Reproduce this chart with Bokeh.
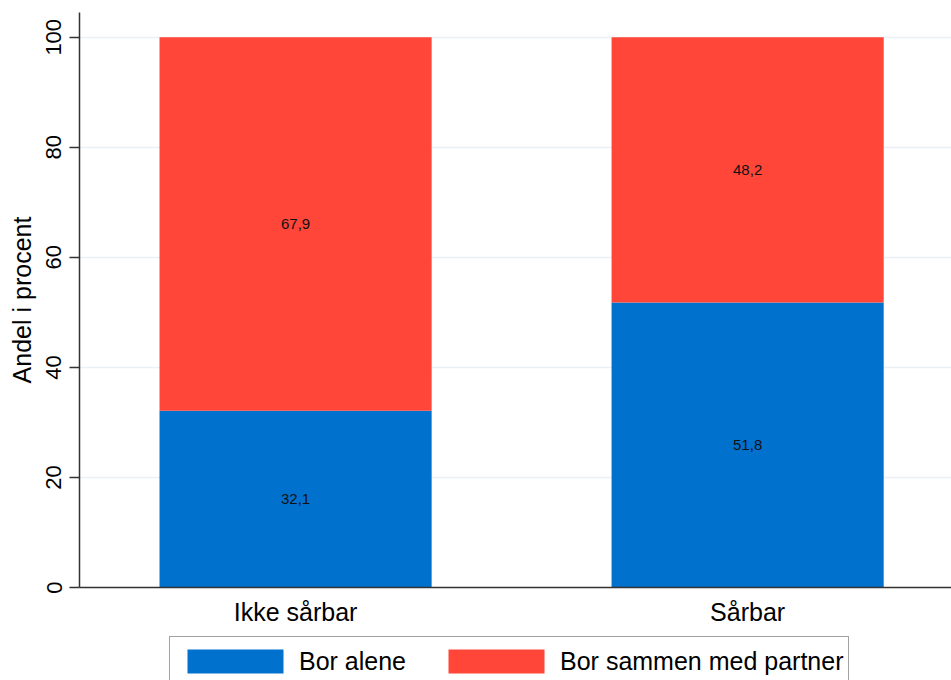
from bokeh.plotting import figure
from bokeh.layouts import column
from bokeh.models import (ColumnDataSource, FixedTicker, Range1d, Legend, LegendItem)
from bokeh.core.properties import value
from bokeh.embed import file_html
from bokeh.resources import INLINE

categories = ["Ikke sårbar", "Sårbar"]
bor_alene = [32.1, 51.8]
bor_sammen = [67.9, 48.2]
series_names = ["Bor alene", "Bor sammen med partner"]
y_ticks = [0, 20, 40, 60, 80, 100]

BLUE = "#0072CE"
RED = "#FF4639"
FONT = "Liberation Sans"

xs = [i + 1 for i in range(len(categories))]
src = ColumnDataSource(dict(
    x=xs, alene=bor_alene, sammen=bor_sammen,
    alene_mid=[a / 2 for a in bor_alene],
    sammen_mid=[a + s / 2 for a, s in zip(bor_alene, bor_sammen)],
    alene_lab=[f"{v:.1f}".replace(".", ",") for v in bor_alene],
    sammen_lab=[f"{v:.1f}".replace(".", ",") for v in bor_sammen],
))

p = figure(width=951, height=634, output_backend="svg", toolbar_location=None,
           x_range=Range1d(0.522, 2.451), y_range=Range1d(0, 104.5),
           min_border_top=12, min_border_right=0, min_border_left=79,
           min_border_bottom=47)
p.outline_line_color = None
p.background_fill_color = "white"
p.border_fill_color = "white"

rs = p.vbar_stack(["alene", "sammen"], x="x", width=0.602, source=src,
                  color=[BLUE, RED], line_width=0)

p.text(x="x", y="alene_mid", text="alene_lab", source=src, text_align="center",
       text_baseline="middle", text_font=value(FONT), text_font_size="15px",
       text_color="#111111")
p.text(x="x", y="sammen_mid", text="sammen_lab", source=src, text_align="center",
       text_baseline="middle", text_font=value(FONT), text_font_size="15px",
       text_color="#111111")

# y axis
ya = p.yaxis[0]
ya.ticker = FixedTicker(ticks=y_ticks)
ya.axis_label = "Andel i procent"
ya.axis_label_text_font = FONT
ya.axis_label_text_font_style = "normal"
ya.axis_label_text_font_size = "25px"
ya.axis_label_text_color = "#000000"
ya.axis_label_standoff = 8
ya.major_label_orientation = "vertical"
ya.major_label_text_font = FONT
ya.major_label_text_font_size = "22px"
ya.major_label_text_color = "#000000"
ya.major_label_standoff = 8
ya.major_tick_out = 10
ya.major_tick_in = 0
ya.minor_tick_out = 0
ya.minor_tick_in = 0
ya.axis_line_color = "#333333"
ya.axis_line_width = 1.5
ya.major_tick_line_color = "#333333"
ya.major_tick_line_width = 1.5

# x axis
xa = p.xaxis[0]
xa.ticker = FixedTicker(ticks=xs)
xa.major_label_overrides = {x: c for x, c in zip(xs, categories)}
xa.major_label_text_font = FONT
xa.major_label_text_font_size = "25px"
xa.major_label_text_color = "#000000"
xa.major_label_standoff = 10
xa.axis_label_standoff = 0
xa.major_tick_out = 0
xa.major_tick_in = 0
xa.minor_tick_out = 0
xa.minor_tick_in = 0
xa.axis_line_color = "#333333"
xa.axis_line_width = 1.5

p.xgrid.grid_line_color = None
p.ygrid.grid_line_color = "#EAF0F5"
p.ygrid.grid_line_width = 1.5

# legend strip: same stacked bars, kept out of view, only for legend swatches
lf = figure(width=951, height=60, output_backend="svg", toolbar_location=None,
            x_range=Range1d(100, 101), y_range=Range1d(1000, 1001),
            x_axis_location=None, y_axis_location=None,
            min_border_top=0, min_border_right=0, min_border_left=79,
            min_border_bottom=0)
lf.outline_line_color = None
lf.grid.visible = False
lrs = lf.vbar_stack(["alene", "sammen"], x="x", width=0.602, source=src,
                    fill_color=[BLUE, RED], line_color=None)

legend = Legend(items=[LegendItem(label=n, renderers=[r]) for n, r in zip(series_names, lrs)],
                orientation="horizontal", location=(90, 8))
legend.label_text_font = FONT
legend.label_text_font_size = "25px"
legend.label_text_color = "#000000"
legend.label_height = 38
legend.glyph_width = 120
legend.glyph_height = 30
legend.label_standoff = 4
legend.spacing = 30
legend.padding = 5
legend.margin = 0
legend.border_line_color = "#444444"
legend.border_line_width = 1.5
legend.background_fill_color = "white"
lf.add_layout(legend, "center")

layout = column(p, lf, spacing=0)
open("out.html", "w").write(file_html(layout, INLINE))
